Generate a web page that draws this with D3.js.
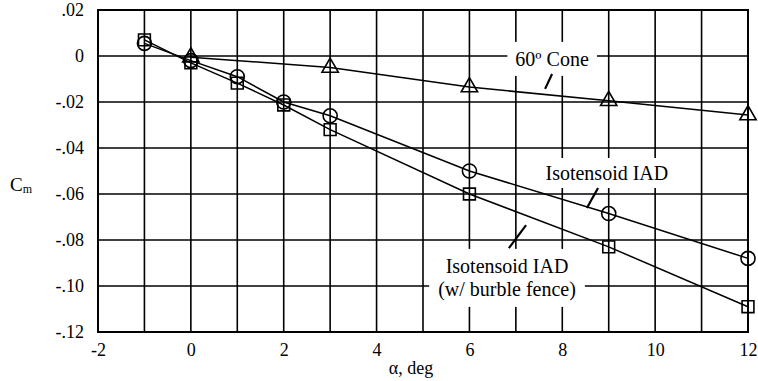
<!DOCTYPE html>
<html>
<head>
<meta charset="utf-8">
<script src="https://cdn.jsdelivr.net/npm/d3@7/dist/d3.min.js"></script>
<style>
  html, body { margin: 0; padding: 0; background: #fff; }
  svg { display: block; }
</style>
</head>
<body>
<svg id="chart" width="758" height="381"></svg>
<script>
// Pitching-moment coefficient vs angle of attack
const alphaIso   = [-1, 0, 1, 2, 3, 6, 9, 12];
const cmIso      = [0.0055, -0.002, -0.009, -0.020, -0.026, -0.050, -0.0685, -0.088];
const alphaFence = [-1, 0, 1, 2, 3, 6, 9, 12];
const cmFence    = [0.007, -0.003, -0.0118, -0.0213, -0.032, -0.060, -0.083, -0.109];
const alphaCone  = [0, 3, 6, 9, 12];
const cmCone     = [-0.0005, -0.005, -0.0135, -0.0195, -0.0257];

const xTickValues = [-2, 0, 2, 4, 6, 8, 10, 12];
const yTickValues = [0.02, 0, -0.02, -0.04, -0.06, -0.08, -0.10, -0.12];
const yTickLabels = [".02", "0", "-.02", "-.04", "-.06", "-.08", "-.10", "-.12"];
const xGridValues = d3.range(-1, 12, 1);
const yGridValues = [0, -0.02, -0.04, -0.06, -0.08, -0.10];

(function draw() {
  const serif = '"Liberation Serif"';
  const svg = d3.select("#chart");
  const plotL = 98, plotR = 748, plotT = 10, plotB = 332;

  const x = d3.scaleLinear().domain([-2, 12]).range([plotL, plotR]);
  const y = d3.scaleLinear().domain([-0.12, 0.02]).range([plotB, plotT]);

  // grid
  const grid = svg.append("g").attr("stroke", "#000").attr("stroke-width", 1.6);
  grid.selectAll("line.v").data(xGridValues).join("line").attr("class", "v")
    .attr("x1", d => x(d)).attr("x2", d => x(d))
    .attr("y1", plotT).attr("y2", plotB);
  grid.selectAll("line.h").data(yGridValues).join("line").attr("class", "h")
    .attr("x1", plotL).attr("x2", plotR)
    .attr("y1", d => y(d)).attr("y2", d => y(d));

  // frame
  svg.append("rect")
    .attr("x", plotL).attr("y", plotT)
    .attr("width", plotR - plotL).attr("height", plotB - plotT)
    .attr("fill", "none").attr("stroke", "#000").attr("stroke-width", 2);

  // axes (labels only)
  const xAxis = svg.append("g")
    .attr("transform", `translate(0,${plotB})`)
    .call(d3.axisBottom(x).tickValues(xTickValues).tickSize(0).tickPadding(11)
          .tickFormat(d => d < 0 ? "-" + Math.abs(d) : String(d)));
  xAxis.select(".domain").remove();
  xAxis.selectAll("text").style("font-family", serif).style("font-size", "18px").attr("fill", "#000");

  const yAxis = svg.append("g")
    .attr("transform", `translate(${plotL},0)`)
    .call(d3.axisLeft(y).tickValues(yTickValues).tickSize(0).tickPadding(14)
          .tickFormat((d, i) => yTickLabels[i]));
  yAxis.select(".domain").remove();
  yAxis.selectAll("text").style("font-family", serif).style("font-size", "18px").attr("fill", "#000");

  // axis titles
  svg.append("text")
    .attr("x", (plotL + plotR) / 2 - 12).attr("y", 374)
    .attr("text-anchor", "middle")
    .style("font-family", serif).style("font-size", "18px")
    .text("α, deg");
  const cm = svg.append("text").attr("x", 10).attr("y", 191)
    .style("font-family", serif).style("font-size", "19px");
  cm.append("tspan").text("C");
  cm.append("tspan").style("font-size", "12px").attr("dy", 2).text("m");

  // annotation labels with white backing
  const notes = [
    { lines: ["60º Cone"], cx: 7.78, base: -0.0043, pad: [8, 6], leader: [[7.63, -0.0143], [7.78, -0.0078]] },
    { lines: ["Isotensoid IAD"], cx: 8.96, base: -0.0539, pad: [3, 4], leader: [[8.53, -0.0661], [8.77, -0.0574]] },
    { lines: ["Isotensoid IAD", "(w/ burble fence)"], cx: 6.81, base: -0.0943, pad: [9, 6], leader: [[6.85, -0.0835], [7.22, -0.0735]] }
  ];

  const noteLayer = svg.append("g");
  notes.forEach(n => {
    const g = noteLayer.append("g");
    const bg = g.append("rect").attr("fill", "#fff");
    const t = g.append("text").attr("text-anchor", "middle")
      .style("font-family", serif).style("font-size", "20px");
    n.lines.forEach((s, i) => {
      t.append("tspan").attr("x", x(n.cx)).attr("y", y(n.base) + i * 23).text(s);
    });
    const b = t.node().getBBox();
    bg.attr("x", b.x - n.pad[0]).attr("y", b.y - n.pad[1])
      .attr("width", b.width + 2 * n.pad[0]).attr("height", b.height + 2 * n.pad[1]);
  });

  // data series
  const series = [
    { xs: alphaIso, ys: cmIso, shape: "circle" },
    { xs: alphaFence, ys: cmFence, shape: "square" },
    { xs: alphaCone, ys: cmCone, shape: "triangle" }
  ];
  const line = d3.line().x(d => x(d[0])).y(d => y(d[1]));

  series.forEach(s => {
    const pts = s.xs.map((a, i) => [a, s.ys[i]]);
    svg.append("path").datum(pts)
      .attr("d", line).attr("fill", "none")
      .attr("stroke", "#000").attr("stroke-width", 1.5);
  });

  const symbols = {
    circle: d3.symbol().type(d3.symbolCircle).size(155),
    square: d3.symbol().type(d3.symbolSquare).size(140),
    triangle: d3.symbol().type(d3.symbolTriangle).size(115)
  };
  series.forEach(s => {
    const pts = s.xs.map((a, i) => [a, s.ys[i]]);
    svg.append("g").selectAll("path").data(pts).join("path")
      .attr("transform", d => `translate(${x(d[0])},${y(d[1])})`)
      .attr("d", symbols[s.shape]())
      .attr("fill", "none")
      .attr("stroke", "#000").attr("stroke-width", 1.6);
  });

  // leader lines
  notes.forEach(n => {
    svg.append("line")
      .attr("x1", x(n.leader[0][0])).attr("y1", y(n.leader[0][1]))
      .attr("x2", x(n.leader[1][0])).attr("y2", y(n.leader[1][1]))
      .attr("stroke", "#000").attr("stroke-width", 2.2);
  });
})();
</script>
</body>
</html>
